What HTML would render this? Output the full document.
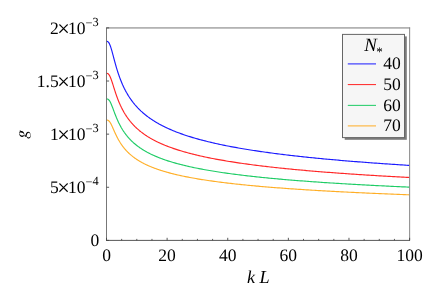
<!DOCTYPE html>
<html><head><meta charset="utf-8"><title>g vs kL</title>
<style>
html,body{margin:0;padding:0;background:#fff;}
body{width:436px;height:305px;overflow:hidden;position:relative;font-family:"Liberation Serif",serif;}
</style></head><body>
<svg width="436" height="305" viewBox="0 0 436 305" style="position:absolute;left:0;top:0">
<rect x="0" y="0" width="436" height="305" fill="#ffffff"/>
<clipPath id="cp"><rect x="106.50" y="27.90" width="303.10" height="212.50"/></clipPath>
<g clip-path="url(#cp)" fill="none" stroke-width="1.15" stroke-linejoin="round">
<path d="M106.50 41.37 L106.80 41.38 L107.11 41.41 L107.41 41.49 L107.71 41.62 L108.02 41.82 L108.32 42.09 L108.62 42.44 L108.92 42.87 L109.23 43.38 L109.53 43.98 L109.83 44.66 L110.14 45.41 L110.44 46.24 L110.74 47.13 L111.05 48.08 L111.35 49.08 L111.65 50.11 L111.96 51.19 L112.26 52.29 L112.56 53.41 L112.87 54.55 L113.17 55.69 L113.47 56.84 L113.77 57.99 L114.08 59.13 L114.38 60.27 L114.68 61.39 L114.99 62.50 L115.29 63.60 L115.59 64.69 L115.90 65.75 L116.20 66.80 L116.50 67.83 L116.81 68.84 L117.11 69.83 L117.41 70.81 L117.71 71.76 L118.02 72.70 L118.32 73.61 L118.62 74.51 L118.93 75.39 L119.23 76.25 L119.53 77.09 L119.84 77.92 L120.14 78.73 L120.44 79.52 L120.75 80.30 L121.05 81.06 L121.35 81.81 L121.66 82.54 L121.96 83.26 L122.26 83.96 L122.56 84.65 L122.87 85.32 L123.17 85.99 L123.47 86.64 L123.78 87.28 L124.08 87.90 L124.38 88.52 L124.69 89.12 L124.99 89.71 L125.29 90.30 L125.60 90.87 L125.90 91.43 L126.20 91.98 L126.50 92.53 L126.81 93.06 L127.11 93.59 L127.41 94.10 L127.72 94.61 L128.02 95.11 L128.32 95.60 L128.63 96.08 L128.93 96.56 L129.23 97.03 L129.54 97.49 L129.84 97.95 L130.14 98.39 L130.44 98.83 L130.75 99.27 L131.05 99.70 L131.35 100.12 L131.66 100.54 L131.96 100.95 L132.26 101.35 L132.57 101.75 L132.87 102.14 L133.17 102.53 L133.48 102.91 L133.78 103.29 L134.08 103.66 L134.39 104.03 L134.69 104.40 L134.99 104.75 L135.29 105.11 L135.60 105.46 L135.90 105.80 L136.20 106.14 L136.51 106.48 L136.81 106.81 L137.11 107.14 L137.42 107.47 L137.72 107.79 L138.02 108.11 L138.33 108.42 L138.63 108.73 L138.93 109.04 L139.23 109.34 L139.54 109.64 L139.84 109.93 L140.14 110.23 L140.45 110.52 L140.75 110.80 L141.05 111.09 L141.36 111.37 L141.66 111.65 L141.96 111.92 L142.27 112.19 L142.57 112.46 L142.87 112.73 L143.18 112.99 L143.48 113.25 L143.78 113.51 L144.08 113.77 L144.39 114.02 L144.69 114.27 L144.99 114.52 L145.30 114.76 L145.60 115.01 L145.90 115.25 L146.21 115.49 L146.51 115.73 L146.81 115.96 L147.12 116.19 L147.42 116.42 L147.72 116.65 L148.02 116.88 L148.33 117.10 L148.63 117.32 L148.93 117.54 L149.24 117.76 L149.54 117.98 L149.84 118.19 L150.15 118.41 L150.45 118.62 L150.75 118.82 L151.06 119.03 L151.36 119.24 L151.66 119.44 L151.97 119.64 L152.27 119.84 L152.57 120.04 L152.87 120.24 L153.18 120.44 L153.48 120.63 L153.78 120.82 L154.09 121.01 L154.39 121.20 L154.69 121.39 L155.00 121.58 L155.30 121.76 L155.60 121.95 L155.91 122.13 L156.21 122.31 L156.51 122.49 L156.81 122.67 L157.12 122.84 L157.42 123.02 L157.72 123.19 L158.03 123.37 L158.33 123.54 L158.63 123.71 L158.94 123.88 L159.24 124.05 L159.54 124.21 L159.85 124.38 L160.15 124.54 L160.45 124.71 L160.75 124.87 L161.06 125.03 L161.36 125.19 L161.66 125.35 L161.97 125.51 L162.27 125.66 L162.57 125.82 L162.88 125.98 L163.18 126.13 L163.48 126.28 L163.79 126.43 L164.09 126.58 L164.39 126.73 L164.70 126.88 L165.00 127.03 L165.30 127.18 L165.60 127.32 L165.91 127.47 L166.21 127.61 L166.51 127.75 L166.82 127.90 L167.12 128.04 L168.64 128.73 L170.15 129.40 L171.67 130.06 L173.18 130.69 L174.70 131.31 L176.21 131.91 L177.73 132.49 L179.24 133.06 L180.76 133.62 L182.28 134.16 L183.79 134.68 L185.31 135.20 L186.82 135.70 L188.34 136.19 L189.85 136.67 L191.37 137.14 L192.88 137.59 L194.40 138.04 L195.91 138.48 L197.43 138.91 L198.95 139.33 L200.46 139.74 L201.98 140.15 L203.49 140.54 L205.01 140.93 L206.52 141.31 L208.04 141.69 L209.55 142.05 L211.07 142.41 L212.59 142.77 L214.10 143.11 L215.62 143.45 L217.13 143.79 L218.65 144.12 L220.16 144.44 L221.68 144.76 L223.19 145.08 L224.71 145.38 L226.22 145.69 L227.74 145.99 L229.26 146.28 L230.77 146.57 L232.29 146.86 L233.80 147.14 L235.32 147.41 L236.83 147.69 L238.35 147.96 L239.86 148.22 L241.38 148.48 L242.90 148.74 L244.41 148.99 L245.93 149.25 L247.44 149.49 L248.96 149.74 L250.47 149.98 L251.99 150.22 L253.50 150.45 L255.02 150.68 L256.53 150.91 L258.05 151.14 L259.57 151.36 L261.08 151.58 L262.60 151.80 L264.11 152.01 L265.63 152.22 L267.14 152.43 L268.66 152.64 L270.17 152.85 L271.69 153.05 L273.21 153.25 L274.72 153.45 L276.24 153.64 L277.75 153.84 L279.27 154.03 L280.78 154.22 L282.30 154.40 L283.81 154.59 L285.33 154.77 L286.84 154.95 L288.36 155.13 L289.88 155.31 L291.39 155.49 L292.91 155.66 L294.42 155.83 L295.94 156.00 L297.45 156.17 L298.97 156.34 L300.48 156.51 L302.00 156.67 L303.51 156.83 L305.03 156.99 L306.55 157.15 L308.06 157.31 L309.58 157.47 L311.09 157.62 L312.61 157.77 L314.12 157.93 L315.64 158.08 L317.15 158.23 L318.67 158.37 L320.19 158.52 L321.70 158.67 L323.22 158.81 L324.73 158.95 L326.25 159.10 L327.76 159.24 L329.28 159.37 L330.79 159.51 L332.31 159.65 L333.83 159.78 L335.34 159.92 L336.86 160.05 L338.37 160.19 L339.89 160.32 L341.40 160.45 L342.92 160.58 L344.43 160.70 L345.95 160.83 L347.46 160.96 L348.98 161.08 L350.50 161.21 L352.01 161.33 L353.53 161.45 L355.04 161.57 L356.56 161.69 L358.07 161.81 L359.59 161.93 L361.10 162.05 L362.62 162.17 L364.13 162.28 L365.65 162.40 L367.17 162.51 L368.68 162.62 L370.20 162.74 L371.71 162.85 L373.23 162.96 L374.74 163.07 L376.26 163.18 L377.77 163.29 L379.29 163.40 L380.81 163.50 L382.32 163.61 L383.84 163.72 L385.35 163.82 L386.87 163.92 L388.38 164.03 L389.90 164.13 L391.41 164.23 L392.93 164.33 L394.44 164.44 L395.96 164.54 L397.48 164.64 L398.99 164.73 L400.51 164.83 L402.02 164.93 L403.54 165.03 L405.05 165.12 L406.57 165.22 L408.08 165.31 L409.60 165.41" stroke="#1a1aff"/>
<path d="M106.50 73.38 L106.80 73.38 L107.11 73.41 L107.41 73.47 L107.71 73.58 L108.02 73.75 L108.32 73.98 L108.62 74.27 L108.92 74.63 L109.23 75.06 L109.53 75.56 L109.83 76.13 L110.14 76.77 L110.44 77.46 L110.74 78.21 L111.05 79.00 L111.35 79.84 L111.65 80.72 L111.96 81.62 L112.26 82.54 L112.56 83.48 L112.87 84.44 L113.17 85.40 L113.47 86.36 L113.77 87.33 L114.08 88.29 L114.38 89.24 L114.68 90.18 L114.99 91.12 L115.29 92.04 L115.59 92.95 L115.90 93.84 L116.20 94.72 L116.50 95.59 L116.81 96.44 L117.11 97.27 L117.41 98.09 L117.71 98.89 L118.02 99.67 L118.32 100.44 L118.62 101.20 L118.93 101.94 L119.23 102.66 L119.53 103.37 L119.84 104.06 L120.14 104.74 L120.44 105.41 L120.75 106.06 L121.05 106.70 L121.35 107.33 L121.66 107.94 L121.96 108.54 L122.26 109.13 L122.56 109.71 L122.87 110.28 L123.17 110.83 L123.47 111.38 L123.78 111.92 L124.08 112.44 L124.38 112.96 L124.69 113.47 L124.99 113.96 L125.29 114.45 L125.60 114.93 L125.90 115.40 L126.20 115.87 L126.50 116.32 L126.81 116.77 L127.11 117.21 L127.41 117.65 L127.72 118.07 L128.02 118.49 L128.32 118.90 L128.63 119.31 L128.93 119.71 L129.23 120.10 L129.54 120.49 L129.84 120.87 L130.14 121.25 L130.44 121.62 L130.75 121.98 L131.05 122.34 L131.35 122.70 L131.66 123.05 L131.96 123.39 L132.26 123.73 L132.57 124.07 L132.87 124.40 L133.17 124.72 L133.48 125.04 L133.78 125.36 L134.08 125.67 L134.39 125.98 L134.69 126.29 L134.99 126.59 L135.29 126.89 L135.60 127.18 L135.90 127.47 L136.20 127.76 L136.51 128.04 L136.81 128.32 L137.11 128.59 L137.42 128.87 L137.72 129.14 L138.02 129.40 L138.33 129.67 L138.63 129.93 L138.93 130.18 L139.23 130.44 L139.54 130.69 L139.84 130.94 L140.14 131.18 L140.45 131.43 L140.75 131.67 L141.05 131.91 L141.36 132.14 L141.66 132.37 L141.96 132.60 L142.27 132.83 L142.57 133.06 L142.87 133.28 L143.18 133.50 L143.48 133.72 L143.78 133.94 L144.08 134.15 L144.39 134.37 L144.69 134.58 L144.99 134.79 L145.30 134.99 L145.60 135.20 L145.90 135.40 L146.21 135.60 L146.51 135.80 L146.81 136.00 L147.12 136.19 L147.42 136.38 L147.72 136.58 L148.02 136.77 L148.33 136.95 L148.63 137.14 L148.93 137.32 L149.24 137.51 L149.54 137.69 L149.84 137.87 L150.15 138.05 L150.45 138.23 L150.75 138.40 L151.06 138.57 L151.36 138.75 L151.66 138.92 L151.97 139.09 L152.27 139.26 L152.57 139.42 L152.87 139.59 L153.18 139.75 L153.48 139.92 L153.78 140.08 L154.09 140.24 L154.39 140.40 L154.69 140.55 L155.00 140.71 L155.30 140.87 L155.60 141.02 L155.91 141.17 L156.21 141.33 L156.51 141.48 L156.81 141.63 L157.12 141.77 L157.42 141.92 L157.72 142.07 L158.03 142.21 L158.33 142.36 L158.63 142.50 L158.94 142.64 L159.24 142.78 L159.54 142.92 L159.85 143.06 L160.15 143.20 L160.45 143.34 L160.75 143.48 L161.06 143.61 L161.36 143.74 L161.66 143.88 L161.97 144.01 L162.27 144.14 L162.57 144.27 L162.88 144.40 L163.18 144.53 L163.48 144.66 L163.79 144.79 L164.09 144.91 L164.39 145.04 L164.70 145.16 L165.00 145.29 L165.30 145.41 L165.60 145.53 L165.91 145.66 L166.21 145.78 L166.51 145.90 L166.82 146.02 L167.12 146.13 L168.64 146.72 L170.15 147.28 L171.67 147.83 L173.18 148.36 L174.70 148.88 L176.21 149.38 L177.73 149.87 L179.24 150.35 L180.76 150.82 L182.28 151.27 L183.79 151.71 L185.31 152.14 L186.82 152.57 L188.34 152.98 L189.85 153.38 L191.37 153.77 L192.88 154.16 L194.40 154.53 L195.91 154.90 L197.43 155.26 L198.95 155.61 L200.46 155.96 L201.98 156.30 L203.49 156.63 L205.01 156.96 L206.52 157.28 L208.04 157.59 L209.55 157.90 L211.07 158.20 L212.59 158.50 L214.10 158.79 L215.62 159.07 L217.13 159.36 L218.65 159.63 L220.16 159.90 L221.68 160.17 L223.19 160.44 L224.71 160.69 L226.22 160.95 L227.74 161.20 L229.26 161.45 L230.77 161.69 L232.29 161.93 L233.80 162.17 L235.32 162.40 L236.83 162.63 L238.35 162.85 L239.86 163.08 L241.38 163.29 L242.90 163.51 L244.41 163.72 L245.93 163.93 L247.44 164.14 L248.96 164.35 L250.47 164.55 L251.99 164.75 L253.50 164.95 L255.02 165.14 L256.53 165.33 L258.05 165.52 L259.57 165.71 L261.08 165.89 L262.60 166.08 L264.11 166.26 L265.63 166.43 L267.14 166.61 L268.66 166.78 L270.17 166.96 L271.69 167.13 L273.21 167.29 L274.72 167.46 L276.24 167.63 L277.75 167.79 L279.27 167.95 L280.78 168.11 L282.30 168.26 L283.81 168.42 L285.33 168.57 L286.84 168.73 L288.36 168.88 L289.88 169.03 L291.39 169.17 L292.91 169.32 L294.42 169.46 L295.94 169.61 L297.45 169.75 L298.97 169.89 L300.48 170.03 L302.00 170.17 L303.51 170.30 L305.03 170.44 L306.55 170.57 L308.06 170.70 L309.58 170.83 L311.09 170.96 L312.61 171.09 L314.12 171.22 L315.64 171.35 L317.15 171.47 L318.67 171.60 L320.19 171.72 L321.70 171.84 L323.22 171.96 L324.73 172.08 L326.25 172.20 L327.76 172.32 L329.28 172.44 L330.79 172.55 L332.31 172.67 L333.83 172.78 L335.34 172.89 L336.86 173.01 L338.37 173.12 L339.89 173.23 L341.40 173.34 L342.92 173.44 L344.43 173.55 L345.95 173.66 L347.46 173.76 L348.98 173.87 L350.50 173.97 L352.01 174.08 L353.53 174.18 L355.04 174.28 L356.56 174.38 L358.07 174.48 L359.59 174.58 L361.10 174.68 L362.62 174.78 L364.13 174.88 L365.65 174.97 L367.17 175.07 L368.68 175.16 L370.20 175.26 L371.71 175.35 L373.23 175.44 L374.74 175.54 L376.26 175.63 L377.77 175.72 L379.29 175.81 L380.81 175.90 L382.32 175.99 L383.84 176.08 L385.35 176.17 L386.87 176.25 L388.38 176.34 L389.90 176.43 L391.41 176.51 L392.93 176.60 L394.44 176.68 L395.96 176.77 L397.48 176.85 L398.99 176.93 L400.51 177.02 L402.02 177.10 L403.54 177.18 L405.05 177.26 L406.57 177.34 L408.08 177.42 L409.60 177.50" stroke="#ff2626"/>
<path d="M106.50 98.96 L106.80 98.96 L107.11 98.99 L107.41 99.04 L107.71 99.14 L108.02 99.28 L108.32 99.47 L108.62 99.72 L108.92 100.02 L109.23 100.39 L109.53 100.81 L109.83 101.30 L110.14 101.83 L110.44 102.42 L110.74 103.05 L111.05 103.73 L111.35 104.44 L111.65 105.18 L111.96 105.94 L112.26 106.72 L112.56 107.52 L112.87 108.33 L113.17 109.14 L113.47 109.96 L113.77 110.78 L114.08 111.59 L114.38 112.40 L114.68 113.20 L114.99 113.99 L115.29 114.77 L115.59 115.54 L115.90 116.30 L116.20 117.04 L116.50 117.78 L116.81 118.49 L117.11 119.20 L117.41 119.89 L117.71 120.57 L118.02 121.24 L118.32 121.89 L118.62 122.53 L118.93 123.15 L119.23 123.76 L119.53 124.36 L119.84 124.95 L120.14 125.53 L120.44 126.09 L120.75 126.64 L121.05 127.19 L121.35 127.72 L121.66 128.24 L121.96 128.75 L122.26 129.25 L122.56 129.74 L122.87 130.22 L123.17 130.69 L123.47 131.15 L123.78 131.60 L124.08 132.05 L124.38 132.49 L124.69 132.92 L124.99 133.34 L125.29 133.75 L125.60 134.16 L125.90 134.56 L126.20 134.95 L126.50 135.34 L126.81 135.72 L127.11 136.09 L127.41 136.46 L127.72 136.82 L128.02 137.17 L128.32 137.52 L128.63 137.87 L128.93 138.21 L129.23 138.54 L129.54 138.87 L129.84 139.19 L130.14 139.51 L130.44 139.82 L130.75 140.13 L131.05 140.44 L131.35 140.74 L131.66 141.03 L131.96 141.32 L132.26 141.61 L132.57 141.90 L132.87 142.17 L133.17 142.45 L133.48 142.72 L133.78 142.99 L134.08 143.26 L134.39 143.52 L134.69 143.78 L134.99 144.03 L135.29 144.28 L135.60 144.53 L135.90 144.78 L136.20 145.02 L136.51 145.26 L136.81 145.50 L137.11 145.73 L137.42 145.96 L137.72 146.19 L138.02 146.41 L138.33 146.64 L138.63 146.86 L138.93 147.08 L139.23 147.29 L139.54 147.50 L139.84 147.71 L140.14 147.92 L140.45 148.13 L140.75 148.33 L141.05 148.53 L141.36 148.73 L141.66 148.93 L141.96 149.13 L142.27 149.32 L142.57 149.51 L142.87 149.70 L143.18 149.89 L143.48 150.07 L143.78 150.26 L144.08 150.44 L144.39 150.62 L144.69 150.80 L144.99 150.97 L145.30 151.15 L145.60 151.32 L145.90 151.49 L146.21 151.66 L146.51 151.83 L146.81 152.00 L147.12 152.16 L147.42 152.33 L147.72 152.49 L148.02 152.65 L148.33 152.81 L148.63 152.97 L148.93 153.12 L149.24 153.28 L149.54 153.43 L149.84 153.59 L150.15 153.74 L150.45 153.89 L150.75 154.04 L151.06 154.18 L151.36 154.33 L151.66 154.47 L151.97 154.62 L152.27 154.76 L152.57 154.90 L152.87 155.04 L153.18 155.18 L153.48 155.32 L153.78 155.46 L154.09 155.59 L154.39 155.73 L154.69 155.86 L155.00 155.99 L155.30 156.12 L155.60 156.25 L155.91 156.38 L156.21 156.51 L156.51 156.64 L156.81 156.77 L157.12 156.89 L157.42 157.02 L157.72 157.14 L158.03 157.26 L158.33 157.39 L158.63 157.51 L158.94 157.63 L159.24 157.75 L159.54 157.87 L159.85 157.98 L160.15 158.10 L160.45 158.22 L160.75 158.33 L161.06 158.45 L161.36 158.56 L161.66 158.67 L161.97 158.79 L162.27 158.90 L162.57 159.01 L162.88 159.12 L163.18 159.23 L163.48 159.34 L163.79 159.44 L164.09 159.55 L164.39 159.66 L164.70 159.76 L165.00 159.87 L165.30 159.97 L165.60 160.08 L165.91 160.18 L166.21 160.28 L166.51 160.38 L166.82 160.48 L167.12 160.58 L168.64 161.08 L170.15 161.56 L171.67 162.02 L173.18 162.47 L174.70 162.91 L176.21 163.34 L177.73 163.75 L179.24 164.16 L180.76 164.55 L182.28 164.93 L183.79 165.31 L185.31 165.67 L186.82 166.03 L188.34 166.38 L189.85 166.72 L191.37 167.05 L192.88 167.38 L194.40 167.70 L195.91 168.01 L197.43 168.31 L198.95 168.61 L200.46 168.91 L201.98 169.19 L203.49 169.47 L205.01 169.75 L206.52 170.02 L208.04 170.29 L209.55 170.55 L211.07 170.80 L212.59 171.05 L214.10 171.30 L215.62 171.54 L217.13 171.78 L218.65 172.02 L220.16 172.25 L221.68 172.47 L223.19 172.70 L224.71 172.92 L226.22 173.13 L227.74 173.34 L229.26 173.55 L230.77 173.76 L232.29 173.96 L233.80 174.16 L235.32 174.36 L236.83 174.55 L238.35 174.74 L239.86 174.93 L241.38 175.12 L242.90 175.30 L244.41 175.48 L245.93 175.66 L247.44 175.84 L248.96 176.01 L250.47 176.18 L251.99 176.35 L253.50 176.52 L255.02 176.68 L256.53 176.84 L258.05 177.00 L259.57 177.16 L261.08 177.32 L262.60 177.47 L264.11 177.63 L265.63 177.78 L267.14 177.93 L268.66 178.07 L270.17 178.22 L271.69 178.36 L273.21 178.51 L274.72 178.65 L276.24 178.79 L277.75 178.92 L279.27 179.06 L280.78 179.19 L282.30 179.33 L283.81 179.46 L285.33 179.59 L286.84 179.72 L288.36 179.85 L289.88 179.97 L291.39 180.10 L292.91 180.22 L294.42 180.34 L295.94 180.46 L297.45 180.58 L298.97 180.70 L300.48 180.82 L302.00 180.94 L303.51 181.05 L305.03 181.17 L306.55 181.28 L308.06 181.39 L309.58 181.50 L311.09 181.61 L312.61 181.72 L314.12 181.83 L315.64 181.94 L317.15 182.04 L318.67 182.15 L320.19 182.25 L321.70 182.36 L323.22 182.46 L324.73 182.56 L326.25 182.66 L327.76 182.76 L329.28 182.86 L330.79 182.96 L332.31 183.05 L333.83 183.15 L335.34 183.25 L336.86 183.34 L338.37 183.44 L339.89 183.53 L341.40 183.62 L342.92 183.71 L344.43 183.80 L345.95 183.89 L347.46 183.98 L348.98 184.07 L350.50 184.16 L352.01 184.25 L353.53 184.34 L355.04 184.42 L356.56 184.51 L358.07 184.59 L359.59 184.68 L361.10 184.76 L362.62 184.84 L364.13 184.93 L365.65 185.01 L367.17 185.09 L368.68 185.17 L370.20 185.25 L371.71 185.33 L373.23 185.41 L374.74 185.49 L376.26 185.56 L377.77 185.64 L379.29 185.72 L380.81 185.79 L382.32 185.87 L383.84 185.94 L385.35 186.02 L386.87 186.09 L388.38 186.17 L389.90 186.24 L391.41 186.31 L392.93 186.38 L394.44 186.46 L395.96 186.53 L397.48 186.60 L398.99 186.67 L400.51 186.74 L402.02 186.81 L403.54 186.88 L405.05 186.94 L406.57 187.01 L408.08 187.08 L409.60 187.15" stroke="#1fcc66"/>
<path d="M106.50 120.05 L106.80 120.05 L107.11 120.07 L107.41 120.12 L107.71 120.20 L108.02 120.32 L108.32 120.48 L108.62 120.69 L108.92 120.95 L109.23 121.26 L109.53 121.62 L109.83 122.03 L110.14 122.48 L110.44 122.98 L110.74 123.51 L111.05 124.08 L111.35 124.68 L111.65 125.31 L111.96 125.96 L112.26 126.62 L112.56 127.29 L112.87 127.98 L113.17 128.67 L113.47 129.36 L113.77 130.05 L114.08 130.73 L114.38 131.42 L114.68 132.10 L114.99 132.76 L115.29 133.43 L115.59 134.08 L115.90 134.72 L116.20 135.35 L116.50 135.97 L116.81 136.58 L117.11 137.18 L117.41 137.76 L117.71 138.34 L118.02 138.90 L118.32 139.45 L118.62 139.99 L118.93 140.52 L119.23 141.04 L119.53 141.55 L119.84 142.05 L120.14 142.53 L120.44 143.01 L120.75 143.48 L121.05 143.94 L121.35 144.39 L121.66 144.83 L121.96 145.26 L122.26 145.68 L122.56 146.10 L122.87 146.50 L123.17 146.90 L123.47 147.30 L123.78 147.68 L124.08 148.06 L124.38 148.43 L124.69 148.79 L124.99 149.15 L125.29 149.50 L125.60 149.84 L125.90 150.18 L126.20 150.51 L126.50 150.84 L126.81 151.16 L127.11 151.48 L127.41 151.79 L127.72 152.10 L128.02 152.40 L128.32 152.69 L128.63 152.99 L128.93 153.27 L129.23 153.55 L129.54 153.83 L129.84 154.11 L130.14 154.38 L130.44 154.64 L130.75 154.90 L131.05 155.16 L131.35 155.42 L131.66 155.67 L131.96 155.92 L132.26 156.16 L132.57 156.40 L132.87 156.64 L133.17 156.87 L133.48 157.10 L133.78 157.33 L134.08 157.55 L134.39 157.78 L134.69 157.99 L134.99 158.21 L135.29 158.42 L135.60 158.63 L135.90 158.84 L136.20 159.05 L136.51 159.25 L136.81 159.45 L137.11 159.65 L137.42 159.85 L137.72 160.04 L138.02 160.23 L138.33 160.42 L138.63 160.61 L138.93 160.79 L139.23 160.97 L139.54 161.15 L139.84 161.33 L140.14 161.51 L140.45 161.68 L140.75 161.86 L141.05 162.03 L141.36 162.20 L141.66 162.36 L141.96 162.53 L142.27 162.69 L142.57 162.86 L142.87 163.02 L143.18 163.18 L143.48 163.33 L143.78 163.49 L144.08 163.64 L144.39 163.80 L144.69 163.95 L144.99 164.10 L145.30 164.24 L145.60 164.39 L145.90 164.54 L146.21 164.68 L146.51 164.82 L146.81 164.97 L147.12 165.11 L147.42 165.24 L147.72 165.38 L148.02 165.52 L148.33 165.65 L148.63 165.79 L148.93 165.92 L149.24 166.05 L149.54 166.18 L149.84 166.31 L150.15 166.44 L150.45 166.57 L150.75 166.69 L151.06 166.82 L151.36 166.94 L151.66 167.06 L151.97 167.19 L152.27 167.31 L152.57 167.43 L152.87 167.55 L153.18 167.66 L153.48 167.78 L153.78 167.90 L154.09 168.01 L154.39 168.13 L154.69 168.24 L155.00 168.35 L155.30 168.46 L155.60 168.58 L155.91 168.69 L156.21 168.79 L156.51 168.90 L156.81 169.01 L157.12 169.12 L157.42 169.22 L157.72 169.33 L158.03 169.43 L158.33 169.54 L158.63 169.64 L158.94 169.74 L159.24 169.84 L159.54 169.94 L159.85 170.04 L160.15 170.14 L160.45 170.24 L160.75 170.34 L161.06 170.44 L161.36 170.53 L161.66 170.63 L161.97 170.72 L162.27 170.82 L162.57 170.91 L162.88 171.01 L163.18 171.10 L163.48 171.19 L163.79 171.28 L164.09 171.37 L164.39 171.46 L164.70 171.55 L165.00 171.64 L165.30 171.73 L165.60 171.82 L165.91 171.91 L166.21 171.99 L166.51 172.08 L166.82 172.17 L167.12 172.25 L168.64 172.67 L170.15 173.07 L171.67 173.47 L173.18 173.85 L174.70 174.22 L176.21 174.59 L177.73 174.94 L179.24 175.28 L180.76 175.62 L182.28 175.94 L183.79 176.26 L185.31 176.57 L186.82 176.87 L188.34 177.17 L189.85 177.46 L191.37 177.74 L192.88 178.02 L194.40 178.29 L195.91 178.55 L197.43 178.81 L198.95 179.07 L200.46 179.31 L201.98 179.56 L203.49 179.80 L205.01 180.03 L206.52 180.26 L208.04 180.49 L209.55 180.71 L211.07 180.93 L212.59 181.14 L214.10 181.35 L215.62 181.55 L217.13 181.76 L218.65 181.96 L220.16 182.15 L221.68 182.34 L223.19 182.53 L224.71 182.72 L226.22 182.90 L227.74 183.08 L229.26 183.26 L230.77 183.44 L232.29 183.61 L233.80 183.78 L235.32 183.95 L236.83 184.11 L238.35 184.27 L239.86 184.43 L241.38 184.59 L242.90 184.75 L244.41 184.90 L245.93 185.05 L247.44 185.20 L248.96 185.35 L250.47 185.49 L251.99 185.64 L253.50 185.78 L255.02 185.92 L256.53 186.06 L258.05 186.19 L259.57 186.33 L261.08 186.46 L262.60 186.59 L264.11 186.72 L265.63 186.85 L267.14 186.98 L268.66 187.10 L270.17 187.23 L271.69 187.35 L273.21 187.47 L274.72 187.59 L276.24 187.71 L277.75 187.82 L279.27 187.94 L280.78 188.05 L282.30 188.17 L283.81 188.28 L285.33 188.39 L286.84 188.50 L288.36 188.61 L289.88 188.72 L291.39 188.82 L292.91 188.93 L294.42 189.03 L295.94 189.13 L297.45 189.24 L298.97 189.34 L300.48 189.44 L302.00 189.54 L303.51 189.64 L305.03 189.73 L306.55 189.83 L308.06 189.92 L309.58 190.02 L311.09 190.11 L312.61 190.20 L314.12 190.30 L315.64 190.39 L317.15 190.48 L318.67 190.57 L320.19 190.66 L321.70 190.74 L323.22 190.83 L324.73 190.92 L326.25 191.00 L327.76 191.09 L329.28 191.17 L330.79 191.25 L332.31 191.34 L333.83 191.42 L335.34 191.50 L336.86 191.58 L338.37 191.66 L339.89 191.74 L341.40 191.82 L342.92 191.90 L344.43 191.97 L345.95 192.05 L347.46 192.13 L348.98 192.20 L350.50 192.28 L352.01 192.35 L353.53 192.43 L355.04 192.50 L356.56 192.57 L358.07 192.64 L359.59 192.72 L361.10 192.79 L362.62 192.86 L364.13 192.93 L365.65 193.00 L367.17 193.07 L368.68 193.14 L370.20 193.20 L371.71 193.27 L373.23 193.34 L374.74 193.40 L376.26 193.47 L377.77 193.54 L379.29 193.60 L380.81 193.67 L382.32 193.73 L383.84 193.79 L385.35 193.86 L386.87 193.92 L388.38 193.98 L389.90 194.05 L391.41 194.11 L392.93 194.17 L394.44 194.23 L395.96 194.29 L397.48 194.35 L398.99 194.41 L400.51 194.47 L402.02 194.53 L403.54 194.59 L405.05 194.65 L406.57 194.70 L408.08 194.76 L409.60 194.82" stroke="#ffae26"/>
</g>
<path d="M106.50 27.95 H410.10" fill="none" stroke="#787878" stroke-width="1"/>
<path d="M409.65 27.50 V240.40" fill="none" stroke="#858585" stroke-width="1"/>
<path d="M106.50 27.50 V240.80" fill="none" stroke="#505050" stroke-width="0.78"/>
<path d="M106.10 240.40 H410.00" fill="none" stroke="#444" stroke-width="0.9"/>
<path d="M106.50 240.40 v-2.60 M121.66 240.40 v-1.50 M136.81 240.40 v-1.50 M151.97 240.40 v-1.50 M167.12 240.40 v-2.60 M182.28 240.40 v-1.50 M197.43 240.40 v-1.50 M212.59 240.40 v-1.50 M227.74 240.40 v-2.60 M242.90 240.40 v-1.50 M258.05 240.40 v-1.50 M273.21 240.40 v-1.50 M288.36 240.40 v-2.60 M303.51 240.40 v-1.50 M318.67 240.40 v-1.50 M333.83 240.40 v-1.50 M348.98 240.40 v-2.60 M364.13 240.40 v-1.50 M379.29 240.40 v-1.50 M394.44 240.40 v-1.50 M409.60 240.40 v-2.60 M106.50 240.40 h2.60 M106.50 187.28 h2.60 M106.50 134.15 h2.60 M106.50 81.03 h2.60 M106.50 27.90 h2.60" fill="none" stroke="#444" stroke-width="0.88"/>
<rect x="344.70" y="36.40" width="62.10" height="103.40" fill="#7c7c7c"/>
<rect x="342.50" y="34.40" width="62.00" height="103.20" fill="#f6f6f6" stroke="#666" stroke-width="1"/>
<path d="M347.8 63.90 H376" stroke="#1a1aff" stroke-width="1.1" stroke-opacity="0.92" fill="none"/>
<path d="M347.8 84.55 H376" stroke="#ff2626" stroke-width="1.1" stroke-opacity="0.92" fill="none"/>
<path d="M347.8 105.40 H376" stroke="#1fcc66" stroke-width="1.1" stroke-opacity="0.92" fill="none"/>
<path d="M347.8 125.90 H376" stroke="#ffae26" stroke-width="1.1" stroke-opacity="0.92" fill="none"/>
<g font-family="Liberation Serif, serif" font-size="17.50" fill="#000" text-rendering="geometricPrecision" style="filter:grayscale(1)">
<text x="383.2" y="69.20">40</text>
<text x="383.2" y="89.87">50</text>
<text x="383.2" y="110.53">60</text>
<text x="383.2" y="131.20">70</text>
<text x="364.2" y="50.9" font-style="italic" font-size="18.9">N<tspan font-style="normal" font-size="13" dy="4.9" dx="-0.5">*</tspan></text>
<text x="106.50" y="261.0" text-anchor="middle">0</text>
<text x="167.12" y="261.0" text-anchor="middle">20</text>
<text x="227.74" y="261.0" text-anchor="middle">40</text>
<text x="288.36" y="261.0" text-anchor="middle">60</text>
<text x="348.98" y="261.0" text-anchor="middle">80</text>
<text x="409.60" y="261.0" text-anchor="middle">100</text>
<text x="99.2" y="246.30" text-anchor="end">0</text>
<text x="98.6" y="193.18" text-anchor="end">5<tspan font-size="22.2" dx="-1.4" dy="1.8">×</tspan><tspan dx="-1.9" dy="-1.8">10</tspan><tspan font-size="12.4" dy="-6.7">−</tspan><tspan font-size="12.4" dy="-1.1">4</tspan></text>
<text x="98.6" y="140.05" text-anchor="end">1<tspan font-size="22.2" dx="-1.4" dy="1.8">×</tspan><tspan dx="-1.9" dy="-1.8">10</tspan><tspan font-size="12.4" dy="-6.7">−</tspan><tspan font-size="12.4" dy="-1.1">3</tspan></text>
<text x="98.6" y="86.93" text-anchor="end">1.5<tspan font-size="22.2" dx="-1.4" dy="1.8">×</tspan><tspan dx="-1.9" dy="-1.8">10</tspan><tspan font-size="12.4" dy="-6.7">−</tspan><tspan font-size="12.4" dy="-1.1">3</tspan></text>
<text x="98.6" y="33.80" text-anchor="end">2<tspan font-size="22.2" dx="-1.4" dy="1.8">×</tspan><tspan dx="-1.9" dy="-1.8">10</tspan><tspan font-size="12.4" dy="-6.7">−</tspan><tspan font-size="12.4" dy="-1.1">3</tspan></text>
<text x="246.9" y="282.6" font-style="italic" font-size="18.2">k L</text>
<g role="img" aria-label="g" transform="translate(27.04 138.6) rotate(-90) scale(0.01780 -0.01780)"><title>g</title><path fill="#000" d="M386 -60C385 3 337 47 241 72C197 83 171 99 171 114C171 129 194 155 207 155C207 155 211 155 214 154C222 152 236 151 245 151C336 151 429 232 428 310C428 326 425 346 419 366H469L468 405H407C404 405 399 407 391 413C364 431 331 441 293 441C182 441 93 364 93 270C94 218 116 188 173 162C115 122 97 102 97 78C97 65 106 53 125 39C26 -26 8 -46 9 -92C10 -161 76 -206 177 -206C303 -206 386 -147 386 -60ZM326 -90C326 -144 269 -184 192 -184C112 -184 64 -146 64 -82C64 -58 69 -41 85 -22C98 -5 140 28 148 28C148 28 151 27 153 26L182 17C288 -16 325 -44 326 -90ZM319 235C297 194 266 172 232 172C194 172 172 200 172 247C171 339 227 419 292 419C329 419 348 395 349 348C349 313 337 269 319 235Z"/></g>
</g>
</svg>
</body></html>
